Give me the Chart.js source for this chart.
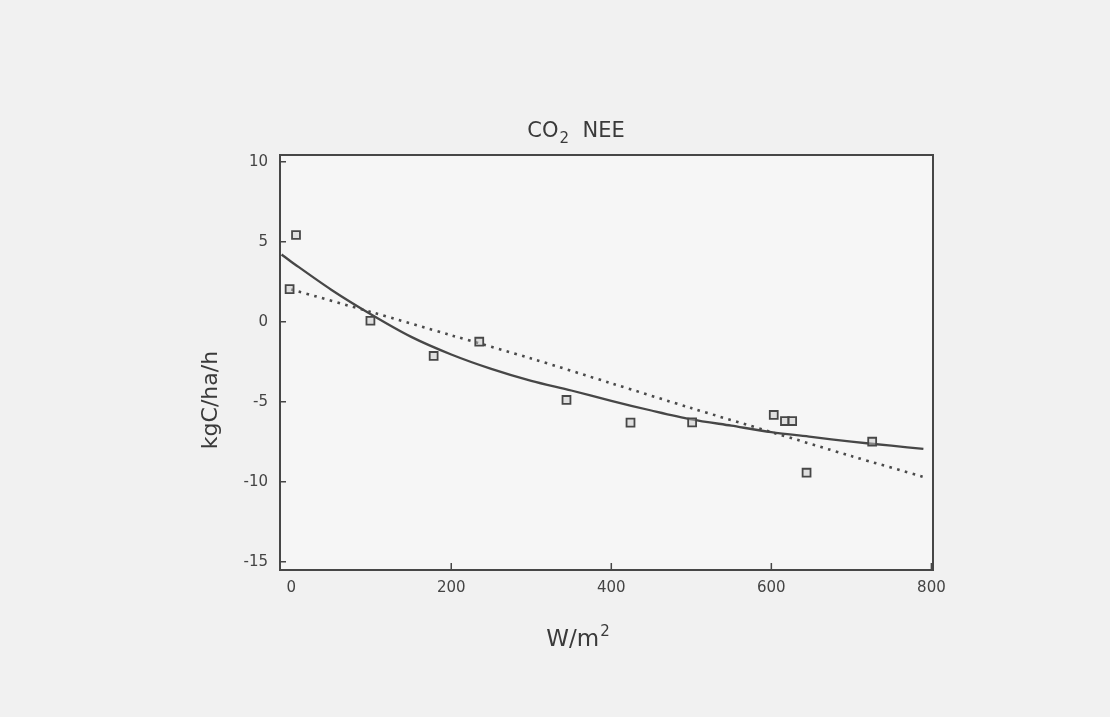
<!DOCTYPE html>
<html>
<head>
<meta charset="utf-8">
<script src="https://cdn.jsdelivr.net/npm/chart.js@4.4.1/dist/chart.umd.min.js"></script>
<style>
  html, body { margin: 0; padding: 0; background: #f0f0f0; }
  #wrap { width: 1110px; height: 717px; position: relative; }
</style>
</head>
<body>
<div id="wrap"><canvas id="c" width="1110" height="717"></canvas></div>
<script>
// ---- data ----
const titleMain = 'CO';
const titleSub = '2';
const titleRest = '  NEE';
const xTitleMain = 'W/m';
const xTitleSup = '2';
const yTitle = 'kgC/ha/h';

const xTickValues = [0, 200, 400, 600, 800];
const yTickValues = [10, 5, 0, -5, -10, -15];

// observed NEE (squares)
const obsX = [6, -2, 99, 178, 235, 344, 424, 501, 603, 617, 626, 644, 726];
const obsY = [5.42, 2.04, 0.06, -2.14, -1.25, -4.89, -6.31, -6.29, -5.83, -6.21, -6.21, -9.44, -7.5];

// solid fitted curve
const solidX = [-12, 0, 50, 100, 150, 200, 250, 300, 350, 400, 450, 500, 550, 600, 650, 700, 750, 790];
const solidY = [4.2, 3.75, 2.0, 0.45, -0.95, -2.05, -2.95, -3.7, -4.3, -4.95, -5.55, -6.1, -6.5, -6.9, -7.2, -7.5, -7.75, -7.95];

// dotted fitted line
const dotX = [0, 100, 200, 300, 400, 500, 600, 700, 790];
const dotY = [2.02, 0.6, -0.85, -2.3, -3.85, -5.4, -6.9, -8.4, -9.7];

const toXY = (xs, ys) => xs.map((x, i) => ({ x: x, y: ys[i] }));

const INK = '#474747';
const FONT = "'DejaVu Sans', 'Liberation Sans', sans-serif";

const decor = {
  id: 'decor',
  beforeDraw(chart) {
    const { ctx, chartArea: a } = chart;
    ctx.save();
    ctx.fillStyle = '#f1f1f1';
    ctx.fillRect(0, 0, chart.width, chart.height);
    ctx.fillStyle = '#f6f6f6';
    ctx.fillRect(a.left, a.top, a.right - a.left, a.bottom - a.top);
    ctx.restore();
  },
  afterDraw(chart) {
    const { ctx, chartArea: a, scales } = chart;
    ctx.save();
    // frame
    ctx.strokeStyle = INK;
    ctx.lineWidth = 2;
    ctx.strokeRect(a.left, a.top, a.right - a.left, a.bottom - a.top);
    // inward tick marks
    ctx.lineWidth = 1.5;
    ctx.beginPath();
    scales.y.ticks.forEach(t => {
      const py = scales.y.getPixelForValue(t.value);
      ctx.moveTo(a.left, py); ctx.lineTo(a.left + 6, py);
    });
    scales.x.ticks.forEach(t => {
      if (t.value === 0) return;
      const px = scales.x.getPixelForValue(t.value);
      ctx.moveTo(px, a.bottom); ctx.lineTo(px, a.bottom - 7);
    });
    ctx.stroke();

    ctx.fillStyle = '#3a3a3a';
    ctx.textBaseline = 'alphabetic';
    ctx.textAlign = 'left';
    // title CO2 NEE
    ctx.font = '21px ' + FONT;
    const w1 = ctx.measureText(titleMain).width;
    const w3 = ctx.measureText(titleRest).width;
    ctx.font = '15px ' + FONT;
    const w2 = ctx.measureText(titleSub).width;
    let tx = 576 - (w1 + w2 + w3 + 1) / 2, ty = 137;
    ctx.font = '21px ' + FONT;
    ctx.fillText(titleMain, tx, ty);
    tx += w1 + 1;
    ctx.font = '15px ' + FONT;
    ctx.fillText(titleSub, tx, ty + 6);
    tx += w2;
    ctx.font = '21px ' + FONT;
    ctx.fillText(titleRest, tx, ty);

    // x axis title W/m2
    ctx.font = '23px ' + FONT;
    const wMain = ctx.measureText(xTitleMain).width;
    ctx.font = '15px ' + FONT;
    const wSup = ctx.measureText(xTitleSup).width;
    let xx = 578 - (wMain + wSup + 1) / 2, xy = 646;
    ctx.font = '23px ' + FONT;
    ctx.fillText(xTitleMain, xx, xy);
    ctx.font = '15px ' + FONT;
    ctx.fillText(xTitleSup, xx + wMain + 1, xy - 10);

    // y axis title
    ctx.translate(211, 400);
    ctx.rotate(-Math.PI / 2);
    ctx.textAlign = 'center';
    ctx.textBaseline = 'middle';
    ctx.font = '22px ' + FONT;
    ctx.fillText(yTitle, 0, 0);
    ctx.restore();
  }
};

new Chart(document.getElementById('c'), {
  type: 'scatter',
  data: {
    datasets: [
      {
        label: 'observed',
        data: toXY(obsX, obsY),
        showLine: false,
        pointStyle: 'rect',
        pointRadius: 5.6,
        pointBorderWidth: 1.8,
        pointBorderColor: INK,
        pointBackgroundColor: 'rgba(200,200,200,0.5)'
      },
      {
        label: 'fit',
        data: toXY(solidX, solidY),
        showLine: true,
        pointRadius: 0,
        borderColor: INK,
        borderWidth: 2.3,
        tension: 0.3,
        fill: false
      },
      {
        label: 'linear',
        data: toXY(dotX, dotY),
        showLine: true,
        pointRadius: 0,
        borderColor: '#4a4a4a',
        borderWidth: 2.6,
        borderDash: [2.6, 5.4],
        tension: 0.3,
        fill: false
      }
    ]
  },
  options: {
    responsive: false,
    animation: false,
    devicePixelRatio: 1,
    layout: { padding: { top: 155, right: 177, bottom: 0, left: 0 } },
    plugins: { legend: { display: false }, tooltip: { enabled: false }, title: { display: false } },
    scales: {
      x: {
        type: 'linear',
        min: -14,
        max: 802,
        afterBuildTicks: s => { s.ticks = xTickValues.map(v => ({ value: v })); },
        afterFit: s => { s.height = 147; },
        grid: { display: false, drawTicks: false },
        border: { display: false },
        ticks: { padding: 9, color: '#444', font: { family: FONT, size: 15 }, maxRotation: 0, autoSkip: false }
      },
      y: {
        type: 'linear',
        min: -15.52,
        max: 10.42,
        afterBuildTicks: s => { s.ticks = yTickValues.map(v => ({ value: v })); },
        afterFit: s => { s.width = 280; },
        grid: { display: false, drawTicks: false },
        border: { display: false },
        ticks: { padding: 12, color: '#444', font: { family: FONT, size: 15 }, autoSkip: false }
      }
    }
  },
  plugins: [decor]
});
</script>
</body>
</html>
